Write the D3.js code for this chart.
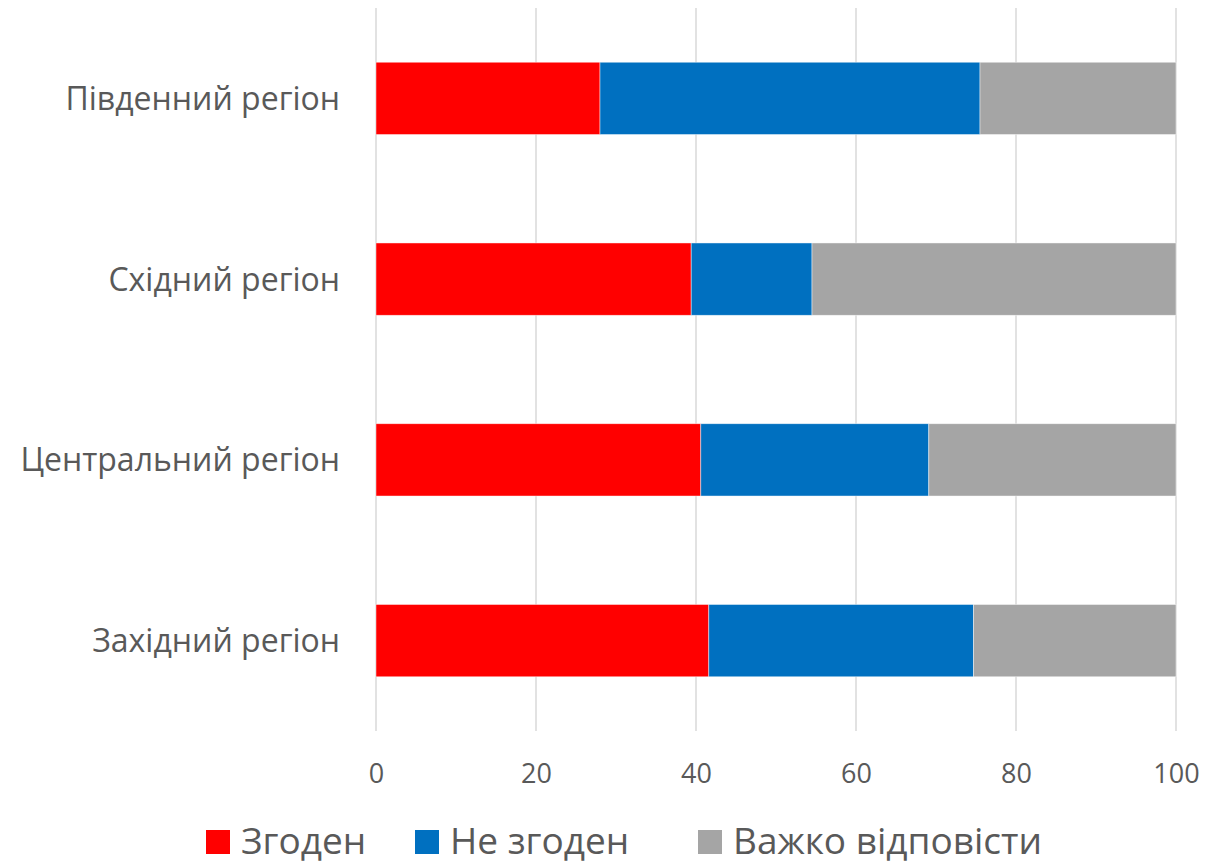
<!DOCTYPE html>
<html>
<head>
<meta charset="utf-8">
<script src="https://cdn.jsdelivr.net/npm/d3@7"></script>
<style>
  html, body { margin: 0; padding: 0; background: #fff; }
  svg { display: block; font-family: "Open Sans", sans-serif; }
</style>
</head>
<body>
<svg id="chart" width="1228" height="862"></svg>
<script>
const categories = ["Південний регіон", "Східний регіон", "Центральний регіон", "Західний регіон"];
const seriesNames = ["Згоден", "Не згоден", "Важко відповісти"];
const agree    = [28.0, 39.4, 40.6, 41.6];
const disagree = [47.5, 15.1, 28.5, 33.1];
const hard     = [24.5, 45.5, 30.9, 25.3];
const xTicks = [0, 20, 40, 60, 80, 100];
const colors = ["#ff0000", "#0070c0", "#a5a5a5"];

const rows = categories.map((c, i) => ({
  cat: c,
  "Згоден": agree[i],
  "Не згоден": disagree[i],
  "Важко відповісти": hard[i]
}));

const svg = d3.select("#chart");
const x = d3.scaleLinear().domain([0, 100]).range([376, 1176]);
const y = d3.scaleBand().domain(categories).range([8, 731]).paddingInner(0.6).paddingOuter(0.3);
const color = d3.scaleOrdinal().domain(seriesNames).range(colors);

// gridlines
svg.append("g").selectAll("line").data(xTicks).join("line")
  .attr("x1", d => x(d)).attr("x2", d => x(d))
  .attr("y1", 8).attr("y2", 731)
  .attr("stroke", "#d9d9d9").attr("stroke-width", 1.5);

// bars
const stack = d3.stack().keys(seriesNames)(rows);
svg.append("g").selectAll("g").data(stack).join("g")
  .attr("fill", d => color(d.key))
  .selectAll("rect").data(d => d).join("rect")
  .attr("x", d => x(d[0]))
  .attr("width", d => x(d[1]) - x(d[0]))
  .attr("y", d => y(d.data.cat))
  .attr("height", y.bandwidth())
  .attr("stroke", "rgba(255,255,255,0.6)")
  .attr("stroke-width", 0.75);

// x axis tick labels
const xAxis = d3.axisBottom(x).tickValues(xTicks).tickSize(0).tickPadding(0).tickFormat(d3.format("d"));
const gx = svg.append("g").attr("transform", "translate(0,764)").call(xAxis);
gx.select(".domain").remove();
gx.selectAll("text").attr("font-size", 27).attr("fill", "#595959")
  .attr("font-family", "Open Sans, sans-serif").attr("dy", "0.69em");

// y axis category labels
const yAxis = d3.axisLeft(y).tickSize(0).tickPadding(0);
const gy = svg.append("g").attr("transform", "translate(340,0)").call(yAxis);
gy.select(".domain").remove();
gy.selectAll("text").attr("font-size", 32).attr("fill", "#595959")
  .attr("font-family", "Open Sans, sans-serif").attr("dy", "0.36em");

// legend
const legendX = [206, 415, 698];
const lg = svg.append("g").selectAll("g").data(seriesNames).join("g")
  .attr("transform", (d, i) => `translate(${legendX[i]},830)`);
lg.append("rect").attr("width", 24).attr("height", 24).attr("fill", d => color(d));
lg.append("text").attr("x", 35).attr("y", 24)
  .attr("font-size", 37).attr("fill", "#595959").text(d => d);
</script>
</body>
</html>
